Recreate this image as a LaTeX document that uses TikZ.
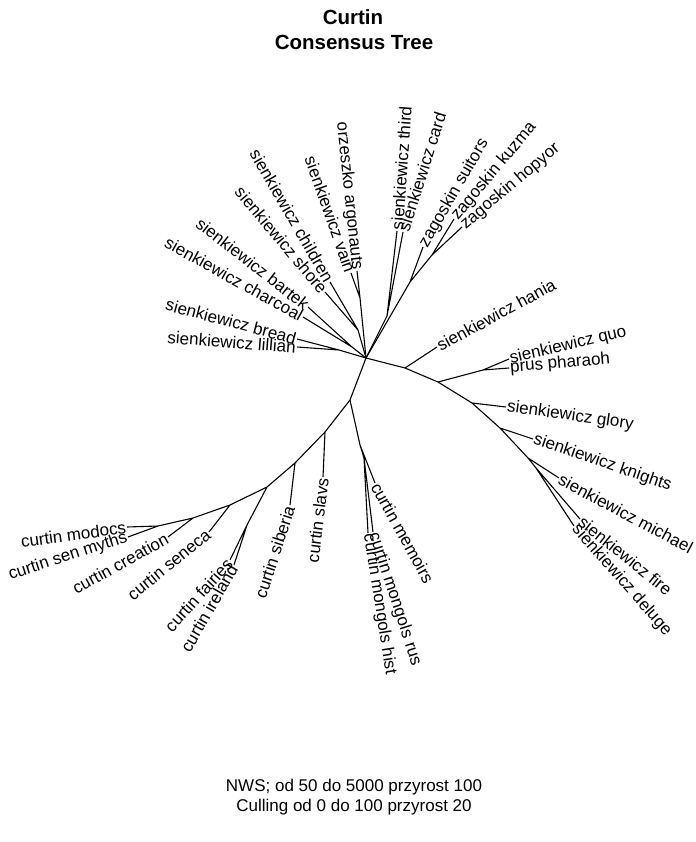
\documentclass[tikz,border=0pt]{standalone}
\usepackage{fontspec}
\setmainfont{Liberation Sans}
\begin{document}
\begin{tikzpicture}[x=1pt,y=-1pt,
  edge/.style={line width=1.1pt},
  lab/.style={font=\fontsize{17}{20}\selectfont, inner sep=1pt},
  labr/.style={lab, anchor=west},
  labl/.style={lab, anchor=east},
  ttl/.style={font=\bfseries\fontsize{20.5}{24}\selectfont, inner sep=0pt},
  note/.style={font=\fontsize{17}{20}\selectfont, inner sep=0pt}]
\useasboundingbox (0,0) rectangle (695,842);
% titles
\node[ttl] (t1) at (353,17) {Curtin};
\node[ttl] (t2) at (354,42) {Consensus Tree};
\node[note] (n1) at (354,787) {NWS; od 50 do 5000 przyrost 100};
\node[note] (n2) at (354,807) {Culling od 0 do 100 przyrost 20};
% internal nodes
\coordinate (C) at (366,358);
\coordinate (LB) at (339,350);
\coordinate (CB) at (352,347);
\coordinate (SC) at (358,330);
\coordinate (VA) at (360,298);
\coordinate (TC) at (387,316);
\coordinate (Z1) at (410,282);
\coordinate (Z2) at (432,255);
\coordinate (H) at (405,368);
\coordinate (QN) at (438,382);
\coordinate (QS) at (483,370);
\coordinate (GN) at (472,403);
\coordinate (KN) at (500,428);
\coordinate (MN) at (528,458);
\coordinate (FD) at (536,468);
\coordinate (L1) at (350,400);
\coordinate (MM1) at (360,445);
\coordinate (MM2) at (364,458);
\coordinate (S1) at (325,432);
\coordinate (S2) at (295,463);
\coordinate (F1) at (267,487);
\coordinate (FI) at (247,525);
\coordinate (SN) at (230,505);
\coordinate (CN) at (193,518);
\coordinate (MD) at (158,526);
% tips
\coordinate (lillian) at (297,347);
\coordinate (bread) at (297,339);
\coordinate (charcoal) at (303,317);
\coordinate (bartek) at (308,307);
\coordinate (shore) at (325,292);
\coordinate (children) at (330,282);
\coordinate (vain) at (351,273);
\coordinate (argonauts) at (357,271);
\coordinate (third) at (397,231);
\coordinate (card) at (403,232);
\coordinate (suitors) at (423,247);
\coordinate (kuzma) at (454,219);
\coordinate (hopyor) at (462,227);
\coordinate (hania) at (437,347);
\coordinate (quo) at (509,359);
\coordinate (pharaoh) at (509,368);
\coordinate (glory) at (506,407);
\coordinate (knights) at (533,439);
\coordinate (michael) at (559,478);
\coordinate (fire) at (580,519);
\coordinate (deluge) at (574,526);
\coordinate (memoirs) at (375,483);
\coordinate (rus) at (373,532);
\coordinate (hist) at (368,533);
\coordinate (slavs) at (323,477);
\coordinate (siberia) at (290,505);
\coordinate (fairies) at (230,560);
\coordinate (ireland) at (234,565);
\coordinate (seneca) at (209,532);
\coordinate (creation) at (168,537);
\coordinate (modocs) at (127,527);
\coordinate (myths) at (128,537);
% edges
\draw[edge] (C) -- (LB) (LB) -- (lillian) (LB) -- (bread);
\draw[edge] (C) -- (CB) (CB) -- (charcoal) (CB) -- (bartek);
\draw[edge] (C) -- (SC) (SC) -- (shore) (SC) -- (children);
\draw[edge] (C) -- (VA) (VA) -- (vain) (VA) -- (argonauts);
\draw[edge] (C) -- (TC) (TC) -- (third) (TC) -- (card);
\draw[edge] (C) -- (Z1) (Z1) -- (suitors) (Z1) -- (Z2) (Z2) -- (kuzma) (Z2) -- (hopyor);
\draw[edge] (C) -- (H) (H) -- (hania) (H) -- (QN) (QN) -- (QS) (QS) -- (quo) (QS) -- (pharaoh);
\draw[edge] (QN) -- (GN) (GN) -- (glory) (GN) -- (KN) (KN) -- (knights) (KN) -- (MN) (MN) -- (michael)
  (MN) -- (FD) (FD) -- (fire) (FD) -- (deluge);
\draw[edge] (C) -- (L1) (L1) -- (MM1) (MM1) -- (memoirs) (MM1) -- (MM2) (MM2) -- (rus) (MM2) -- (hist);
\draw[edge] (L1) -- (S1) (S1) -- (slavs) (S1) -- (S2) (S2) -- (siberia) (S2) -- (F1)
  (F1) -- (FI) (FI) -- (fairies) (FI) -- (ireland) (F1) -- (SN) (SN) -- (seneca)
  (SN) -- (CN) (CN) -- (creation) (CN) -- (MD) (MD) -- (modocs) (MD) -- (myths);
% labels
\node[labl, rotate=-4.4] (Llillian) at (lillian) {sienkiewicz lillian};
\node[labl, rotate=-15] (Lbread) at (bread) {sienkiewicz bread};
\node[labl, rotate=-29] (Lcharcoal) at (charcoal) {sienkiewicz charcoal};
\node[labl, rotate=-38] (Lbartek) at (bartek) {sienkiewicz bartek};
\node[labl, rotate=-50] (Lshore) at (shore) {sienkiewicz shore};
\node[labl, rotate=-60] (Lchildren) at (children) {sienkiewicz children};
\node[labl, rotate=-70.6] (Lvain) at (vain) {sienkiewicz vain};
\node[labl, rotate=-84] (Largonauts) at (argonauts) {orzeszko argonauts};
\node[labr, rotate=86] (Lthird) at (third) {sienkiewicz third};
\node[labr, rotate=72.5] (Lcard) at (card) {sienkiewicz card};
\node[labr, rotate=60] (Lsuitors) at (suitors) {zagoskin suitors};
\node[labr, rotate=50] (Lkuzma) at (kuzma) {zagoskin kuzma};
\node[labr, rotate=40] (Lhopyor) at (hopyor) {zagoskin hopyor};
\node[labr, rotate=28.5] (Lhania) at (hania) {sienkiewicz hania};
\node[labr, rotate=13] (Lquo) at (quo) {sienkiewicz quo};
\node[labr, rotate=5] (Lpharaoh) at (pharaoh) {prus pharaoh};
\node[labr, rotate=-8] (Lglory) at (glory) {sienkiewicz glory};
\node[labr, rotate=-19] (Lknights) at (knights) {sienkiewicz knights};
\node[labr, rotate=-28] (Lmichael) at (michael) {sienkiewicz michael};
\node[labr, rotate=-39] (Lfire) at (fire) {sienkiewicz fire};
\node[labr, rotate=-48.7] (Ldeluge) at (deluge) {sienkiewicz deluge};
\node[labr, rotate=-61] (Lmemoirs) at (memoirs) {curtin memoirs};
\node[labr, rotate=-72] (Lrus) at (rus) {curtin mongols rus};
\node[labr, rotate=-81] (Lhist) at (hist) {curtin mongols hist};
\node[labl, rotate=83] (Lslavs) at (slavs) {curtin slavs};
\node[labl, rotate=72] (Lsiberia) at (siberia) {curtin siberia};
\node[labl, rotate=48] (Lfairies) at (fairies) {curtin fairies};
\node[labl, rotate=60] (Lireland) at (ireland) {curtin ireland};
\node[labl, rotate=39] (Lseneca) at (seneca) {curtin seneca};
\node[labl, rotate=29] (Lcreation) at (creation) {curtin creation};
\node[labl, rotate=8] (Lmodocs) at (modocs) {curtin modocs};
\node[labl, rotate=18] (Lmyths) at (myths) {curtin sen myths};
\end{tikzpicture}
\end{document}
